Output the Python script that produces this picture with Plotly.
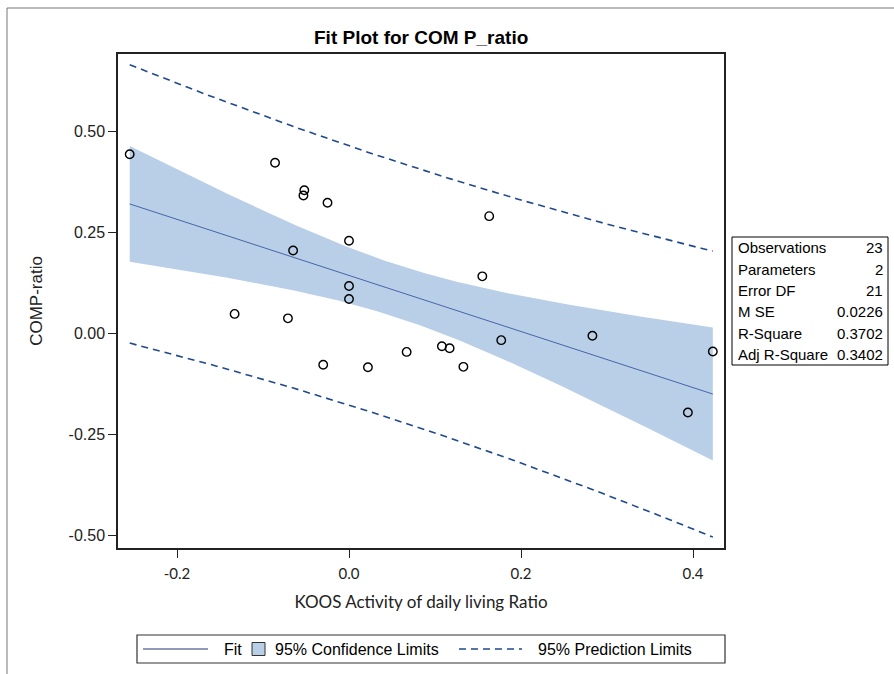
import numpy as np
import plotly.graph_objects as go

# ---------------- data ----------------
koos_adl_ratio = [-0.255, -0.086, -0.052, -0.053, -0.025, -0.065, 0.000, 0.000, 0.000,
                  -0.133, -0.071, -0.030, 0.022, 0.067, 0.108, 0.117, 0.133, 0.155,
                  0.163, 0.177, 0.283, 0.394, 0.423]
comp_ratio = [0.443, 0.422, 0.354, 0.341, 0.323, 0.205, 0.229, 0.117, 0.085,
              0.048, 0.037, -0.078, -0.084, -0.046, -0.032, -0.037, -0.083, 0.141,
              0.290, -0.017, -0.006, -0.196, -0.045]

x_tick_vals = [-0.2, 0.0, 0.2, 0.4]
x_tick_text = ["-0.2", "0.0", "0.2", "0.4"]
y_tick_vals = [-0.5, -0.25, 0.0, 0.25, 0.5]
y_tick_text = ["-0.50", "-0.25", "0.00", "0.25", "0.50"]

stat_labels = ["Observations", "Parameters", "Error DF", "M SE", "R-Square", "Adj R-Square"]
stat_values = ["23", "2", "21", "0.0226", "0.3702", "0.3402"]

legend_labels = ["Fit", "95% Confidence Limits", "95% Prediction Limits"]
title_text = "Fit Plot for COM P_ratio"
x_title = "KOOS Activity of daily living Ratio"
y_title = "COMP-ratio"

T_975_DF21 = 2.0796  # Student t quantile, 0.975, 21 df

# ---------------- regression (as in the SAS fit plot) ----------------
X = np.array(koos_adl_ratio)
Y = np.array(comp_ratio)
n = len(X)
b1, b0 = np.polyfit(X, Y, 1)
mse = np.sum((Y - (b0 + b1 * X)) ** 2) / (n - 2)
s = np.sqrt(mse)
xm = X.mean()
sxx = np.sum((X - xm) ** 2)
xg = np.linspace(X.min(), X.max(), 150)
yhat = b0 + b1 * xg
hw_cl = T_975_DF21 * s * np.sqrt(1.0 / n + (xg - xm) ** 2 / sxx)
hw_pl = T_975_DF21 * s * np.sqrt(1.0 + 1.0 / n + (xg - xm) ** 2 / sxx)

# ---------------- layout geometry (pixels) ----------------
W, H = 894, 674
L, R, T, B = 118, 724, 54, 548


def px(xp):
    return (xp - L) / (R - L)


def py(yp):
    return (B - yp) / (B - T)


BAND = "rgb(185,207,231)"
FITC = "#4565AA"
PIC = "#1F4A8F"
FONT = "Liberation Sans, Arial, sans-serif"
FONT2 = "Lato, Open Sans, sans-serif"

fig = go.Figure()
fig.add_trace(go.Scatter(x=xg, y=yhat - hw_cl, mode="lines", line=dict(width=0, color=BAND),
                         hoverinfo="skip", showlegend=False))
fig.add_trace(go.Scatter(x=xg, y=yhat + hw_cl, mode="lines", line=dict(width=0, color=BAND),
                         fill="tonexty", fillcolor=BAND, name=legend_labels[1], showlegend=False))
fig.add_trace(go.Scatter(x=xg, y=yhat, mode="lines", line=dict(width=1, color=FITC),
                         name=legend_labels[0], showlegend=False))
fig.add_trace(go.Scatter(x=xg, y=yhat + hw_pl, mode="lines",
                         line=dict(width=1.6, color=PIC, dash="7px,5px"),
                         name=legend_labels[2], showlegend=False))
fig.add_trace(go.Scatter(x=xg, y=yhat - hw_pl, mode="lines",
                         line=dict(width=1.6, color=PIC, dash="7px,5px"),
                         showlegend=False))
fig.add_trace(go.Scatter(x=X, y=Y, mode="markers",
                         marker=dict(symbol="circle-open", size=8.5, color="black",
                                     line=dict(width=1.4, color="black")),
                         showlegend=False))

x0 = -0.2686
x1 = 0.4360
y0 = -0.5314
y1 = 0.6913

fig.update_xaxes(range=[x0, x1], tickvals=x_tick_vals, ticktext=x_tick_text,
                 showgrid=False, zeroline=False, showline=True, mirror=True,
                 linecolor="#222", linewidth=1.5, ticks="outside", ticklen=8,
                 tickcolor="#222", tickwidth=1.3, ticklabelstandoff=3,
                 tickfont=dict(family=FONT2, size=15, color="#222"),
                 title=dict(text=x_title, font=dict(family=FONT2, size=17, color="#222"),
                            standoff=15))
fig.update_yaxes(range=[y0, y1], tickvals=y_tick_vals, ticktext=y_tick_text,
                 showgrid=False, zeroline=False, showline=True, mirror=True,
                 linecolor="#222", linewidth=1.5, ticks="outside", ticklen=8,
                 tickcolor="#222", tickwidth=1.3,
                 tickfont=dict(family=FONT, size=16, color="#222"),
                 title=dict(text=y_title, font=dict(family=FONT, size=17, color="#222"),
                            standoff=22))

shapes = []
annotations = []

# outer border
shapes.append(dict(type="rect", xref="paper", yref="paper", x0=px(7), x1=px(905), y0=py(690), y1=py(8),
                   line=dict(color="#777", width=1), fillcolor="rgba(0,0,0,0)", layer="below"))

# title
annotations.append(dict(x=px(421), y=py(37), xref="paper", yref="paper", text=title_text,
                        showarrow=False, xanchor="center", yanchor="middle",
                        font=dict(family=FONT, size=19, color="black", weight="bold")))

# statistics table
tb_l, tb_r, tb_t, tb_b = 732, 888, 237, 365
shapes.append(dict(type="rect", xref="paper", yref="paper", x0=px(tb_l), x1=px(tb_r),
                   y0=py(tb_b), y1=py(tb_t), line=dict(color="black", width=1), fillcolor="white"))
rh = (tb_b - tb_t) / len(stat_labels)
for i, (lab, val) in enumerate(zip(stat_labels, stat_values)):
    yc = tb_t + rh * (i + 0.5)
    annotations.append(dict(x=px(tb_l + 4), y=py(yc), xref="paper", yref="paper", text=lab,
                            showarrow=False, xanchor="left", yanchor="middle",
                            font=dict(family=FONT, size=15, color="black")))
    annotations.append(dict(x=px(tb_r - 3), y=py(yc), xref="paper", yref="paper", text=val,
                            showarrow=False, xanchor="right", yanchor="middle",
                            font=dict(family=FONT, size=15, color="black")))

# legend
lg_l, lg_r, lg_t, lg_b = 137, 725, 635, 663
lyc = 649
shapes.append(dict(type="rect", xref="paper", yref="paper", x0=px(lg_l), x1=px(lg_r),
                   y0=py(lg_b), y1=py(lg_t), line=dict(color="#333", width=1.2), fillcolor="white"))
shapes.append(dict(type="line", xref="paper", yref="paper", x0=px(143), x1=px(208), y0=py(lyc), y1=py(lyc),
                   line=dict(color="#1F3A75", width=1.2)))
annotations.append(dict(x=px(222), y=py(lyc), xref="paper", yref="paper", text=legend_labels[0],
                        showarrow=False, xanchor="left", yanchor="middle",
                        font=dict(family=FONT, size=16, color="black")))
shapes.append(dict(type="rect", xref="paper", yref="paper", x0=px(252), x1=px(265), y0=py(655.5), y1=py(642.5),
                   line=dict(color="#333", width=1), fillcolor=BAND))
annotations.append(dict(x=px(273), y=py(lyc), xref="paper", yref="paper", text=legend_labels[1],
                        showarrow=False, xanchor="left", yanchor="middle",
                        font=dict(family=FONT, size=16, color="black")))
shapes.append(dict(type="line", xref="paper", yref="paper", x0=px(459), x1=px(522), y0=py(lyc), y1=py(lyc),
                   line=dict(color=PIC, width=1.4, dash="7px,5px")))
annotations.append(dict(x=px(536), y=py(lyc), xref="paper", yref="paper", text=legend_labels[2],
                        showarrow=False, xanchor="left", yanchor="middle",
                        font=dict(family=FONT, size=16, color="black")))

fig.update_layout(width=W, height=H, margin=dict(l=L, r=W - R, t=T, b=H - B, pad=0),
                  paper_bgcolor="white", plot_bgcolor="white", showlegend=False,
                  shapes=shapes, annotations=annotations)

fig.write_html("out.html")
